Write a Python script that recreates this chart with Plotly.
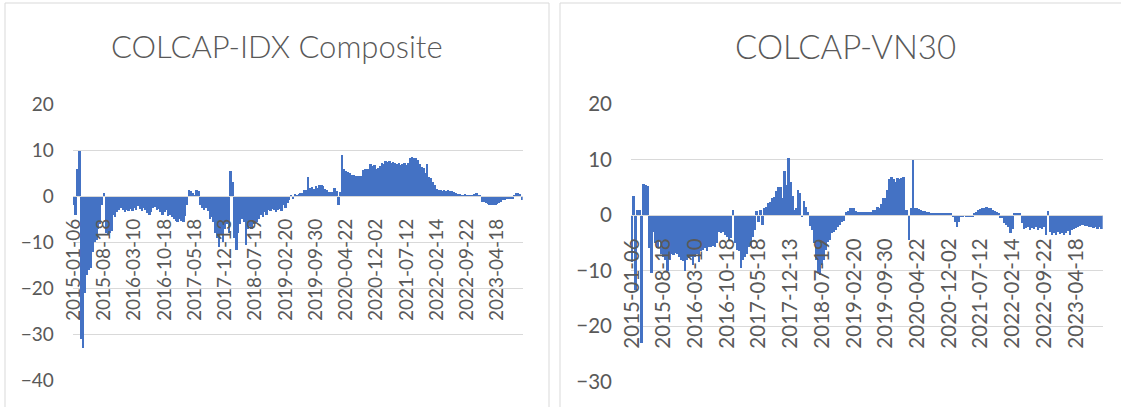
import pandas as pd
import plotly.graph_objects as go

# ---------------- data ----------------
tick_labels = ["2015-01-06", "2015-08-18", "2016-03-10", "2016-10-18", "2017-05-18",
               "2017-12-13", "2018-07-19", "2019-02-20", "2019-09-30", "2020-04-22",
               "2020-12-02", "2021-07-12", "2022-02-14", "2022-09-22", "2023-04-18"]

titles = ["COLCAP-IDX Composite", "COLCAP-VN30"]

# category dates (16 categories between consecutive labelled dates)
dates = []
for a, b in zip(tick_labels[:-1], tick_labels[1:]):
    dates += [d.strftime("%Y-%m-%d") for d in pd.date_range(a, b, periods=17)[:-1]]
dates += [d.strftime("%Y-%m-%d") for d in pd.date_range(tick_labels[-1], periods=14, freq="13D")]

idx_composite = [
    -2, -4, 5.8, 9.8, -31, -33, -21, -17, -16, -15.5, -12, -10, -9.5, -7, -6, -2,
    0.7, -8, -8.5, -8, -7.5, -4, -4.5, -3.5, -3, -2.5, -3, -3.5, -3, -3.3, -2.8, -3.2,
    -2.5, -3, -2.2, -2.8, -3.3, -2.5, -3, -3.6, -4, -3.5, -2.5, -2.3, -3, -2.7, -3.5, -4,
    -3.5, -3, -4.3, -4, -4.5, -5, -5.4, -5.6, -5, -5.4, -5.5, -4.3, -2, 1.4, 1.2, 0.8,
    0.3, 1.3, 1.2, -2, -2.5, -3, -2.5, -3.2, -5, -4.5, -5.5, -8, -9, -11, -8.5, -10,
    -7, -6, -8, 5.5, 3, -9, -11.6, -8, -6, -5, -5.5, -10.5, -7, -6.5, -7, -6,
    -6, -5.5, -5, -4, -4.5, -3.5, -4, -3, -3.3, -2.8, -3, -3.5, -3, -2.7, -3.2, -2,
    -2.5, -1.5, -0.8, 0.3, -0.5, 0.4, 0.3, 0.5, 0.6, 0.7, 1.4, 1.4, 4.2, 1.8, 2, 1.6,
    2.2, 1.8, 2.5, 2.5, 2.2, 1.5, 1.4, 1, 1, 0.9, 1.8, 1.2, -1.8, 1, 9, 5.8,
    5.5, 5.2, 5, 4.6, 4.5, 4.3, 4.3, 4.4, 4.3, 5.6, 5.8, 5.8, 6, 6.9, 6.6, 6.8,
    6, 6.2, 6.5, 7.2, 7, 7.6, 7.4, 7.6, 7.3, 7.5, 7.2, 7, 7.3, 6.8, 7, 7.1,
    6.8, 7.2, 8.3, 8.5, 8.2, 8.2, 7.8, 7, 6.3, 6.2, 5, 6.9, 4.2, 4, 3, 2.4,
    1.5, 1.3, 1.3, 1.2, 1.4, 1.2, 1.3, 1.1, 1.1, 0.9, 0.7, 0.5, 0.4, 0.35, 0.35, 0.4,
    0.35, 0.35, 0.35, 0.3, 0.4, 0.8, 0.2, 0.15, -1.2, -1.3, -1.4, -1.6, -1.8, -1.8, -1.9, -1.8,
    -1.7, -1.5, -1.2, -0.9, -0.8, -0.7, -0.7, -0.6, -0.5, 0.3, 0.7, 0.8, 0.5, -0.8,
]

vn30 = [
    -8.5, 3.5, -13.5, 1, 1, -23, 5.6, 5.5, 5.3, -6, -10.5, -3, -5, -6, -4.5, -7,
    -7.5, -8, -10, -8, -7, -7.2, -6.8, -7, -7.5, -8, -8.2, -10, -8, -7.8, -7.5, -9,
    -7.5, -7, -8.5, -6.5, -6.3, -6, -6.5, -5.8, -5.7, -5.5, -5.8, -5, -3, -3.2, -3, -3.5,
    -4, -4.5, -4.2, 0.9, -5, -6.3, -6.5, -9.6, -8, -7.5, -7, -5.7, -5.5, -4, -2.7, 0.8,
    -1.2, 1, -1.8, 1.3, 1.5, 2.2, 2.3, 3, 3.2, 4.3, 5, 5, 3, 8, 5.5, 10.2,
    6, 3.5, 1, 1.2, 4.5, 4, -0.3, 2.5, 1.5, 0.5, -2, -2.7, -5, -8, -10.5, -10.8,
    -9, -8, -6.3, -4.8, -4.5, -3.3, -3, -2.7, -2.2, -1.8, -1.2, -1, 0.5, 0.8, 1.2, 1.3,
    1.2, 0.8, 0.6, 0.6, 0.5, 0.6, 0.5, 0.5, 0.5, 0.6, 1, 1, 1.5, 1.2, 2, 3,
    3, 4.5, 6.5, 6.8, 6.5, 6, 6.7, 6.5, 6.7, 6.8, 1, 0.9, -4.5, 1.2, 9.9, 1.3,
    1.2, 1.1, 0.9, 0.8, 0.7, 0.6, 0.5, 0.3, 0.3, 0.3, 0.3, 0.3, 0.3, 0.3, 0.3, 0.3,
    0.3, 0.3, -0.2, -1.2, -2.1, -1.3, -0.3, -0.3, 0, -0.3, -0.3, -0.3, -0.3, 0.4, 0.6, 0.9,
    1.1, 1.3, 1.3, 1.4, 1.3, 1.2, 1, 0.8, 0.5, 0.3, -0.5, -0.6, -1.5, -1.8, -2.2, -3.3,
    -2.5, 0.3, 0.3, 0.3, 0.3, -1.5, -2.5, -2.4, -2.2, -2.6, -2.3, -2.5, -2.2, -2.6, -2.4, -2.5,
    -2.2, -3.6, 0.8, -3, -3.6, -3.2, -3.5, -3, -3.4, -3.2, -3.6, -3.3, -2.8, -3.5, -2.6, -2.5,
    -2.4, -2.2, -2, -1.8, -1.7, -1.9, -2, -2.2, -2.1, -2.3, -2.2, -2.5, -2.2, -2.5,
]

y_ranges = [[-40, 20], [-30, 20]]

# ---------------- layout ----------------
W, H = 1121, 407
BLUE = "#4472C4"
GREY_TXT = "#595959"
GRID = "#d9d9d9"
FONT = "Lato"

dom_x = [[72.7 / W, 522.7 / W], [631 / W, 1102.7 / W]]
dom_y = [[1 - 380.7 / H, 1 - 104 / H], [1 - 381.7 / H, 1 - 104 / H]]
tick_sizes = [19, 20.5]
title_sizes = [31, 33]
title_x = [276.5 / W, 845 / W]

fig = go.Figure()
for k, vals in enumerate([idx_composite, vn30]):
    sfx = "" if k == 0 else "2"
    fig.add_trace(go.Bar(x=dates, y=vals, xaxis="x" + sfx, yaxis="y" + sfx,
                         marker=dict(color=BLUE, line=dict(width=0)),
                         hoverinfo="x+y"))
    lo, hi = y_ranges[k]
    d0, d1 = dom_y[k]
    zero_pos = d0 + (0 - lo) / (hi - lo) * (d1 - d0)
    fig.layout["xaxis" + sfx] = dict(
        domain=dom_x[k], type="category", anchor="free", position=zero_pos,
        range=[-0.5, len(dates) - 0.5], automargin=False,
        tickmode="array", tickvals=tick_labels, ticktext=tick_labels,
        tickangle=-90, ticks="", showgrid=False,
        showline=True, linecolor=GRID, linewidth=1,
        tickfont=dict(family=FONT, size=tick_sizes[k], color=GREY_TXT),
        ticklabelstandoff=14,
    )
    fig.layout["yaxis" + sfx] = dict(
        domain=dom_y[k], anchor="x" + sfx, range=[lo, hi], dtick=10, tick0=0,
        automargin=False,
        showgrid=True, gridcolor=GRID, gridwidth=1, zeroline=False,
        showline=False, ticks="",
        tickfont=dict(family=FONT, size=tick_sizes[k], color=GREY_TXT),
        ticklabelstandoff=18,
    )
    fig.add_annotation(text=titles[k], xref="paper", yref="paper",
                       x=title_x[k], y=1 - 46 / H, xanchor="center", yanchor="middle",
                       showarrow=False,
                       font=dict(family=FONT, size=title_sizes[k], color=GREY_TXT,
                                 weight=300))

# chart frames
fig.add_shape(type="rect", xref="paper", yref="paper",
              x0=5 / W, x1=549 / W, y0=-0.05, y1=1 - 3 / H,
              line=dict(color=GRID, width=1), fillcolor="rgba(0,0,0,0)", layer="below")
fig.add_shape(type="rect", xref="paper", yref="paper",
              x0=560 / W, x1=1.05, y0=-0.05, y1=1 - 3 / H,
              line=dict(color=GRID, width=1), fillcolor="rgba(0,0,0,0)", layer="below")

fig.update_layout(
    width=W, height=H, margin=dict(l=0, r=0, t=0, b=0, pad=0, autoexpand=False),
    paper_bgcolor="white", plot_bgcolor="white",
    bargap=0, showlegend=False,
)

fig.write_html("out.html", config={"displayModeBar": False},
               post_script="document.body.style.margin='0';")
